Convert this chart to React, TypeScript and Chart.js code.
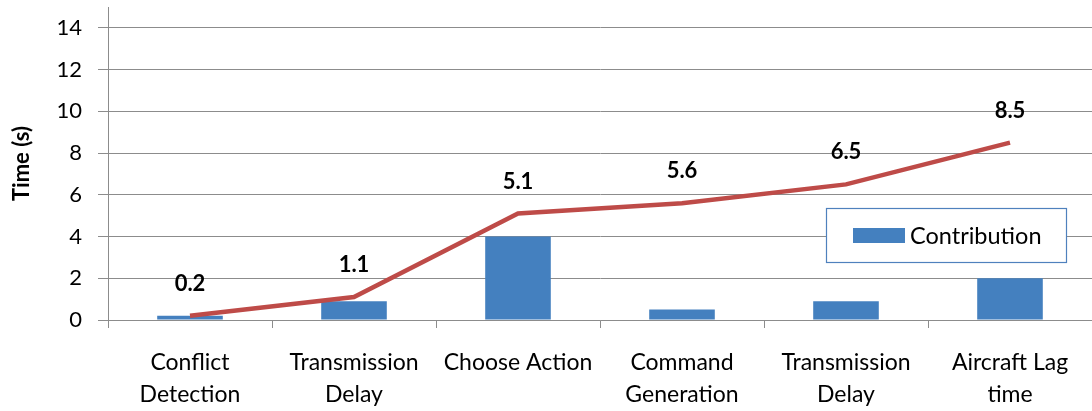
import React, { useEffect, useRef } from "react";
import { Chart, registerables } from "chart.js";

Chart.register(...registerables);

const categories: string[][] = [
  ["Conflict", "Detection"],
  ["Transmission", "Delay"],
  ["Choose Action"],
  ["Command", "Generation"],
  ["Transmission", "Delay"],
  ["Aircraft Lag", "time"],
];
const contribution = [0.2, 0.9, 4.0, 0.5, 0.9, 2.0];
const cumulative = [0.2, 1.1, 5.1, 5.6, 6.5, 8.5];
const yTicks = [0, 2, 4, 6, 8, 10, 12, 14];
const yMax = 15;
const yTitle = "Time (s)";

const FONT = "Lato, 'Open Sans', sans-serif";
const BAR_COLOR = "#4480BF";
const LINE_COLOR = "#BE4B48";
const GRID_COLOR = "#8C8C8C";

const labelPlugin = {
  id: "pointLabels",
  afterDatasetsDraw(chart: any) {
    const meta = chart.getDatasetMeta(0);
    const ctx = chart.ctx;
    ctx.save();
    ctx.font = `bold 22px ${FONT}`;
    ctx.fillStyle = "#000";
    ctx.textAlign = "center";
    ctx.textBaseline = "middle";
    meta.data.forEach((pt: any, i: number) => {
      ctx.fillText(String(cumulative[i]), pt.x, pt.y - 32);
    });
    ctx.restore();
  },
};

const legendPlugin = {
  id: "boxLegend",
  afterDraw(chart: any) {
    const ctx = chart.ctx;
    const ds = chart.data.datasets[1];
    ctx.save();
    ctx.fillStyle = "#fff";
    ctx.fillRect(826, 208, 240, 54);
    ctx.strokeStyle = "#4F81BD";
    ctx.lineWidth = 1.2;
    ctx.strokeRect(826.5, 208.5, 240, 54);
    ctx.fillStyle = ds.backgroundColor;
    ctx.fillRect(853, 228, 52, 15);
    ctx.fillStyle = "#000";
    ctx.font = `23.5px ${FONT}`;
    ctx.textAlign = "left";
    ctx.textBaseline = "middle";
    ctx.fillText(ds.label, 910, 236);
    ctx.restore();
  },
};

export default function App() {
  const ref = useRef<HTMLCanvasElement>(null);
  useEffect(() => {
    if (!ref.current) return;
    const chart = new Chart(ref.current, {
      type: "bar",
      data: {
        labels: categories as any,
        datasets: [
          {
            type: "line",
            label: "Cumulative",
            data: cumulative,
            borderColor: LINE_COLOR,
            backgroundColor: LINE_COLOR,
            borderWidth: 4.5,
            pointRadius: 0,
            tension: 0,
            order: 0,
          } as any,
          {
            type: "bar",
            label: "Contribution",
            data: contribution,
            backgroundColor: BAR_COLOR,
            categoryPercentage: 1,
            barPercentage: 0.4,
            order: 1,
          },
        ],
      },
      options: {
        animation: false,
        responsive: false,
        maintainAspectRatio: false,
        layout: { padding: { top: 7, right: 0, left: 0, bottom: 0 } },
        plugins: {
          legend: { display: false },
          tooltip: { enabled: false },
        },
        scales: {
          x: {
            offset: true,
            grid: {
              offset: true,
              drawOnChartArea: false,
              drawTicks: true,
              tickLength: 8,
              color: GRID_COLOR,
            },
            border: { display: true, color: GRID_COLOR, width: 1 },
            ticks: {
              color: "#000",
              font: { family: FONT, size: 23, lineHeight: 1.4 },
              maxRotation: 0,
              autoSkip: false,
              padding: 18,
            },
            afterFit(scale: any) {
              scale.height = 91;
              scale.paddingLeft = 0;
              scale.paddingRight = 0;
            },
          },
          y: {
            min: 0,
            max: yMax,
            afterBuildTicks(scale: any) {
              scale.ticks = yTicks.map((v) => ({ value: v }));
            },
            grid: { color: GRID_COLOR, tickLength: 10, lineWidth: 1 },
            border: { display: true, color: GRID_COLOR, width: 1 },
            ticks: {
              color: "#000",
              font: { family: FONT, size: 22 },
              padding: 16,
            },
            title: {
              display: true,
              text: yTitle,
              color: "#000",
              font: { family: FONT, size: 22, weight: "bold" },
              padding: 9,
            },
            afterFit(scale: any) {
              scale.width = 108;
              scale.paddingTop = 0;
              scale.paddingBottom = 0;
            },
          },
        },
      },
      plugins: [labelPlugin, legendPlugin],
    });
    return () => chart.destroy();
  }, []);
  return (
    <div style={{ position: "fixed", left: 0, top: 0, width: 1092, height: 411, background: "#fff" }}>
      <canvas ref={ref} width={1092} height={411} style={{ display: "block" }} />
    </div>
  );
}
